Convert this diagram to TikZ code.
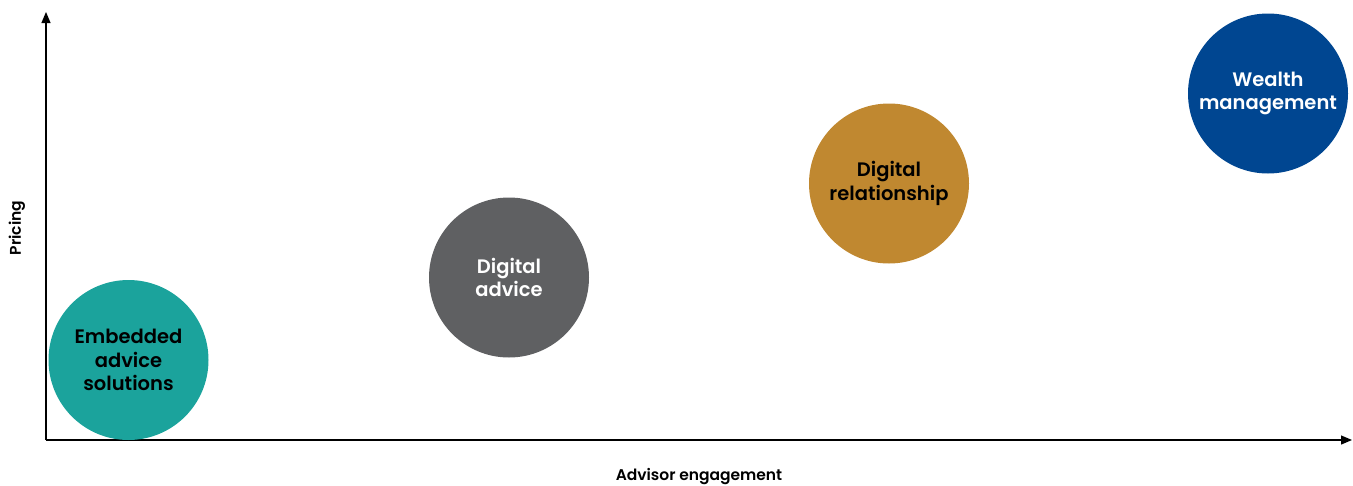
\documentclass[tikz,border=0pt]{standalone}
\usepackage{fontspec}
\setmainfont{Poppins}[BoldFont={* SemiBold}]
\usetikzlibrary{arrows.meta}
\definecolor{teal1}{HTML}{1BA39C}
\definecolor{gray1}{HTML}{5F6062}
\definecolor{gold1}{HTML}{C08830}
\definecolor{blue1}{HTML}{004691}
\tikzset{
  bubble/.style={circle, minimum size=160pt, inner sep=0pt, align=center,
    font=\fontsize{19.5}{23.5}\selectfont\bfseries},
  axis/.style={line width=1.2pt, -{Triangle[length=11pt,width=9pt]}},
  axlabel/.style={font=\fontsize{15.5}{18}\selectfont\bfseries}
}
\begin{document}
\begin{tikzpicture}[x=1pt,y=-1pt]
\useasboundingbox (0,0) rectangle (1353,485);
\coordinate (o) at (46,440);
\coordinate (ytop) at (46,12);
\coordinate (xend) at (1352,440);
\draw[axis] (o) -- (ytop);
\draw[axis] (o) -- (xend);
\node[bubble, fill=teal1, text=black] (emb) at (128.5,360) {Embedded\\advice\\solutions};
\node[bubble, fill=gray1, text=white] (dig) at (509,277.5) {Digital\\advice};
\node[bubble, fill=gold1, text=black] (rel) at (889,183.5) {Digital\\relationship};
\node[bubble, fill=blue1, text=white] (wm) at (1268,93.5) {Wealth\\management};
\node[axlabel, rotate=90] (py) at (17,228) {Pricing};
\node[axlabel] (px) at (699,477) {Advisor engagement};
\end{tikzpicture}
\end{document}
